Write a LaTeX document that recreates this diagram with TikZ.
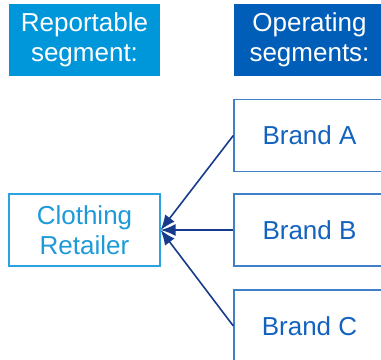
\documentclass[tikz,border=0pt]{standalone}
\usepackage{fontspec}
\setmainfont{Liberation Sans}
\usetikzlibrary{arrows.meta}
\definecolor{lightblue}{HTML}{0096DA}
\definecolor{darkblue}{HTML}{005EB8}
\definecolor{clothline}{HTML}{2AA3E0}
\definecolor{clothtext}{HTML}{1E9AD8}
\definecolor{brandline}{HTML}{3F80C8}
\definecolor{brandtext}{HTML}{1363BE}
\definecolor{arrowcol}{HTML}{163A8C}
\tikzset{
  box/.style={minimum width=151bp, minimum height=72bp, inner sep=0pt, align=center,
    font=\fontsize{26bp}{30bp}\selectfont},
  header/.style={box, text=white},
  clothbox/.style={box, draw=clothline, line width=1.3bp, text=clothtext},
  brandbox/.style={box, draw=brandline, line width=1.3bp, text=brandtext},
  link/.style={draw=arrowcol, line width=1.6bp, -{Latex[length=15bp,width=12bp]}}
}
\begin{document}
\begin{tikzpicture}[x=1bp, y=-1bp]
\useasboundingbox (0,0) rectangle (381,360);
\clip (0,0) rectangle (381,360);
\node[header, fill=lightblue] (rep) at (84.5,40) {Reportable\\segment:};
\node[header, fill=darkblue] (op) at (309.5,40) {Operating\\segments:};
\node[clothbox] (cloth) at (84.5,230) {Clothing\\Retailer};
\node[brandbox] (a) at (309.5,135.5) {Brand A};
\node[brandbox] (b) at (309.5,230) {Brand B};
\node[brandbox] (c) at (309.5,326) {Brand C};
\draw[link] (a.west) -- (cloth.east);
\draw[link] (b.west) -- (cloth.east);
\draw[link] (c.west) -- (cloth.east);
\end{tikzpicture}
\end{document}
